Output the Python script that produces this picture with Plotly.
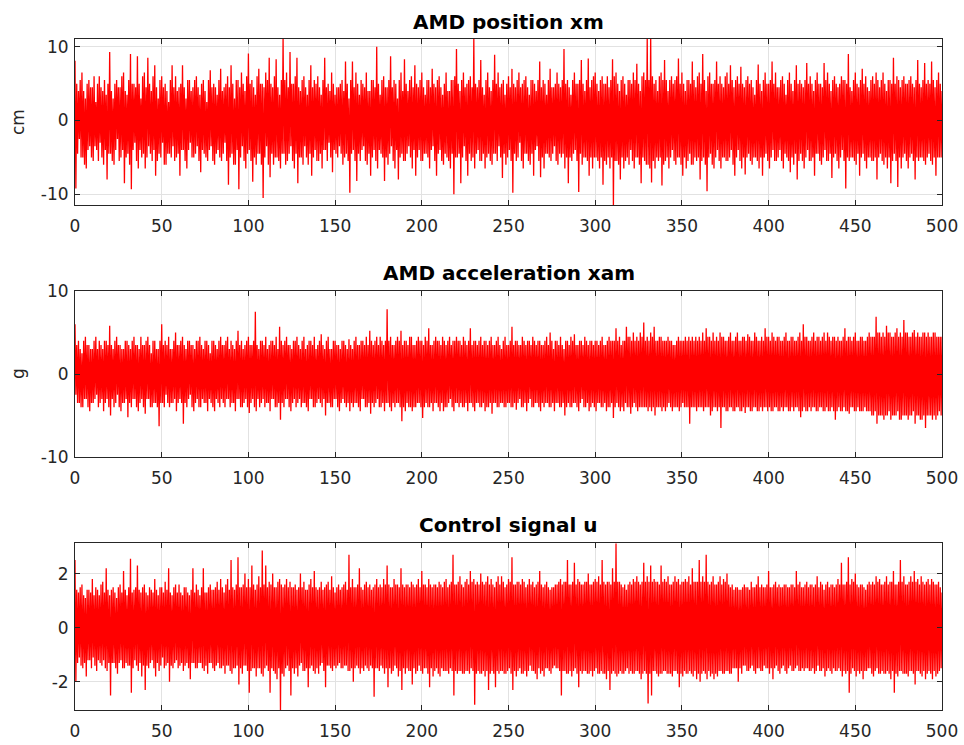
import plotly.graph_objects as go

# ---------------- data ----------------
T_START = 0
T_END = 500

panel_titles = ["AMD position xm", "AMD acceleration xam", "Control signal u"]
y_axis_labels = ["cm", "g", ""]
x_tick_values = [0, 50, 100, 150, 200, 250, 300, 350, 400, 450, 500]
x_tick_labels = ["0", "50", "100", "150", "200", "250", "300", "350", "400", "450", "500"]
y_tick_values = [[-10, 0, 10], [-10, 0, 10], [-2, 0, 2]]
y_tick_labels = [["-10", "0", "10"], ["-10", "0", "10"], ["-2", "0", "2"]]
y_ranges = [[-11.45, 11.05], [-10, 10], [-3.04, 3.12]]

# AMD position xm [cm], estimated peaks, two samples per second
xm_cm = [
    8.1,-9.2,5,-4.5,4,-2.5,5.5,-5,6.5,-5,4,-6,3,-6.5,5,-4,5.5,-3.5,4.5,-5,4.5,-5.5,6,-3.5,2.5,-4,5,-5.5,6,-3,4.5,-5,4,-6,5.5,-4,3.5,-8,5,-4.5,
    9.3,-4.5,4,-5.5,3,-6,5,-4,5.5,-2.5,4.5,-5.5,4.5,-5,6,-4,6.5,-8.5,4,-5,3.5,-4.5,5.5,-6,9,-9.3,5,-4,5,-3,4.5,-5.5,8.7,-6.5,5,-4,3,-5,6,-4.5,
    6.5,-6.5,4.5,-5,8.5,-3.5,5,-4.5,4,-5.5,6,-4,7.5,-7.5,4.5,-5.5,3,-4.5,5.5,-5,6,-3,4.5,-6,5,-6,4,-4.5,2.5,-4.5,5.5,-5,7.5,-3.5,4.5,-5.5,6,-5,4,-4.5,
    4.5,-7.5,5,-4,7.5,-4,4.5,-5.5,3,-6.5,5.5,-4,5.5,-3,4,-5,4.5,-5,5.5,-4.5,6,-3.5,4.5,-5.5,3.5,-7,5,-4,5.5,-4.5,4,-5,2.5,-5.5,5.5,-4,6.8,-3.5,4.5,-5.5,
    5,-6,4.5,-4.5,3.5,-4,5.5,-5,7,-5.5,4,-4.5,4.5,-3,5,-5.5,6,-8.7,4.5,-5,7.5,-4.5,5,-6,3,-6,5.5,-4,5.5,-9.3,4.5,-5,6.5,-3.5,5,-5.5,4,-6.5,6,-4.5,
    9.1,-4,5,-5.5,5.5,-8.3,4.5,-5,3.5,-6,6,-4.5,7,-4.5,5,-6,5,-10.5,4.5,-5,6.5,-3.5,5.5,-6,8.5,-7.7,5,-4.5,4.5,-6,6,-5,8.3,-5,4.5,-5.5,3.5,-6.5,5.5,-4.5,
    11.2,-4.5,5.5,-6,6.5,-5.5,4.5,-4.5,9.3,-3.5,5,-5.5,5,-6.5,6,-4.5,8.5,-8.5,4.5,-5,4,-5,5.5,-6,6,-3.5,4.5,-5,3.5,-6,5.5,-4.5,7.5,-7.5,4.5,-5,5.5,-4,5,-5.5,
    6,-5.5,4.5,-4.5,3.5,-6.5,5.5,-4,8.5,-4,4.5,-5.5,5,-3,4,-5,6.5,-7,5,-4,3.5,-4.5,4.5,-5,4.5,-3.5,5,-4.5,5.5,-6,4,-5,8,-4.5,5,-5.5,3,-9.8,5.5,-4.5,
    8,-4,4.5,-5.5,6.5,-8.2,5,-4.5,3.5,-5.5,5.5,-4,5,-3.5,4.5,-5.5,6.5,-6,4,-4.5,4,-7.5,5.5,-5,5.5,-4,4.5,-5.5,10,-6.5,5,-4,3.5,-4.5,5.5,-5,6,-8.2,4.5,-5,
    4.5,-6,5.5,-4.5,8.7,-3.5,4.5,-5.5,5.5,-6.5,5,-4,3,-8,5.5,-5,6.5,-4.5,4,-5.5,8.3,-5.5,5,-4.5,4,-3.5,5.5,-5,6,-6.5,4.5,-4,7.5,-7.5,5,-5,4.5,-4,5.5,-5.5,
    6.5,-5.5,4.5,-4.5,3.5,-4.5,5.5,-5,5.5,-6.5,4.5,-4,7,-3.5,5,-5.5,4.5,-7.5,5.5,-4.5,6,-4,4.5,-5.5,3.5,-6,5,-4.5,6.5,-5,4,-5.5,4,-6.5,5.5,-4.5,5.5,-10,6,-5,
    9.7,-5,5,-4.5,4,-8.5,5.5,-5,6.5,-3.5,4.5,-5.5,5,-7.5,5.5,-4.5,6,-5.5,4.5,-5,11.2,-6.5,5,-4.5,4.5,-4,5.5,-5.5,8.2,-5.5,4.5,-4.5,3.5,-6.5,5.5,-5,6.5,-4.5,4.5,-5.5,
    4,-6,5.5,-4.5,8.9,-4.5,5,-5.5,6.5,-3.5,4.5,-5,5,-7.8,5.5,-4.5,3.5,-6,5,-5,6,-4,4.5,-5.5,7,-9.8,5,-4.5,4.5,-5.5,5.5,-5,6.5,-3,4.5,-5.5,5,-6.5,5.5,-4.5,
    6,-4.5,4.5,-5.5,3.5,-6,5.5,-4.5,5.5,-7.5,5,-4,4,-3.5,5.5,-5.5,8,-7.7,4.5,-5,5.5,-6.5,5,-4.5,3.5,-4.5,5.5,-5,7,-5.5,4.5,-4.5,4.5,-3.5,5,-5.5,6.5,-6,5,-4.5,
    4.5,-5,5.5,-4.5,9.7,-6.5,5,-5,5.5,-8.5,4.5,-5,3.5,-5.5,5.5,-4.5,6.5,-4,5,-5.5,5,-9.7,5.5,-4.5,8.2,-6,5,-5,4,-5,5.5,-5.5,8.4,-7.5,4.5,-5,5.5,-6.5,6,-5,
    6.5,-5,5,-5.5,4,-6.5,5.5,-5,6,-8.7,5,-5.5,5,-6,6,-5,4.5,-6.5,5.5,-5,8.3,-11.6,6,-5.5,6.5,-5.5,5,-6,4,-8,5.5,-5,6,-6.5,5,-5.5,3.5,-5,5.5,-6,
    5.5,-4,5,-5.5,6.5,-6.5,5.5,-5,7.7,-5,5,-6,4,-8.5,6,-5,6.5,-5.5,5.5,-6,11.2,-6,5.5,-6.5,11.2,-8.4,6,-5.5,5,-6.5,5.5,-5,4,-5.5,6,-5,6.5,-8.8,5.5,-6,
    8.2,-5.5,5.5,-5,4,-6.5,5.5,-5,6,-4,5,-5.5,5.5,-6,6,-5,8.4,-5,5,-6,6.5,-7.5,5,-5,4,-6.5,5.5,-5.5,5.5,-4.5,5,-6,8,-6,5.5,-5,4.5,-5.5,6,-5,
    6.5,-8,5,-5.5,9,-5,5.5,-6,4,-9.6,6,-5,6.5,-4.5,5,-6,5,-6.5,5.5,-5,8,-4,5,-5.5,6,-6.5,5,-5,4.5,-5,6,-5.5,6.5,-5.5,5,-5,7.5,-4,5.5,-6,
    4.5,-7.5,5.5,-5,6,-4,5,-5.5,7.3,-6.5,5,-5,4.5,-7.3,5.5,-5,6,-4.5,5,-5.5,5.5,-6,4.5,-5,3.5,-5,5.5,-5.5,7.6,-6.5,5,-5,4,-7.5,5.5,-5,6.5,-4.5,5,-5.5,
    5,-6.5,5.5,-5,8,-4,5,-5.5,6.5,-5.5,4.5,-5,4.5,-4,5.5,-5.5,6,-6.5,5,-4.5,3.5,-5,5.5,-5.5,6.5,-7,5,-5,4,-6,5.5,-4.5,7.5,-8,5,-5.5,5.5,-4.5,5,-5.5,
    4.5,-6.5,5.5,-5,7.8,-4,5,-5.5,6,-5.5,5,-5,4,-7.5,5.5,-4.5,6.5,-4.5,5,-5.5,5,-6,4.5,-5,7.8,-4,5.5,-5.5,6.5,-5.5,5,-4.5,4,-7.8,5.5,-5,6,-4.5,5,-5.5,
    4.5,-6.5,5,-5,6,-4,5.5,-5.5,5.5,-9.2,5,-5,9,-5.5,4.5,-5,4,-5,5.5,-5.5,6.5,-6,5,-4.5,4.5,-7.5,5.5,-5,7,-4.5,5,-5.5,6,-6.5,4.5,-5,4,-5,5.5,-5.5,
    6,-5.5,5,-5,6.5,-8,5.5,-5,4.5,-4.5,5.5,-5.5,6.5,-6,5,-5,4,-6.5,5.5,-5,5.5,-8.5,5,-5.5,8.5,-4.5,5,-5.5,6,-9,5.5,-5,4.5,-6.5,5.5,-5,6,-4.5,5,-5.5,
    5,-6.5,5.5,-5,6,-4.5,5,-5.5,4.5,-8,5.5,-5,8.2,-5.5,5,-5,4.5,-5,5.5,-5.5,7.8,-6,5,-5,5.5,-4.5,5,-5.5,8,-6,5.5,-5,4.5,-7.5,5.5,-5,6.5,-5,5,-5,
    4,
]

# AMD acceleration xam [g]
xam_g = [
    6,-2.5,3.5,-3.5,4,-3.5,3,-4,2.5,-4,4,-3,4.5,-3,3.5,-4,3.5,-4.5,3,-3.5,3,-3.5,4,-3,4.5,-2.5,3,-4,4,-3.5,3.5,-3,3,-4.5,4,-3.5,4,-3,3.5,-4,
    5.8,-5,3.5,-3,3,-4,4,-3.5,4.5,-2.5,3.5,-4,3.5,-4.5,3,-3.5,3,-3.5,4,-3,4,-5.2,3.5,-3.5,3,-4,4,-3,4.5,-3,3.5,-4,3.5,-4.5,3,-3.5,4.5,-3,3.5,-4,
    3.5,-4.8,4,-3,4.5,-3,3.5,-4,2.5,-4,4,-3.5,4,-3.5,3,-4,3,-6.3,4,-3.5,6,-3.5,3.5,-4,4,-2.5,3.5,-3.5,4.5,-4,3,-3.5,3,-3.5,4,-3,5,-4.5,3.5,-3.5,
    3.5,-3,4,-3.5,4.5,-6,3.5,-3.5,3,-4,4,-3,4,-2.5,3.5,-4,3.5,-4.5,3,-3.5,4,-3,4,-4,4.5,-4,3.5,-3,3,-3.5,4,-3.5,4,-4.5,3.5,-3,2.5,-3.5,4,-4,
    4,-4.5,3.5,-3,3,-3.5,4,-4,4.5,-3,3.5,-3.5,3.5,-4,4,-3,4.5,-3,3,-4,4,-3.5,3.5,-3.5,3,-4.5,4,-3,5.2,-3,3.5,-4,4,-4,3,-3.5,3.5,-3,4,-4,
    4.5,-4.7,3.5,-3.5,3.5,-3,4,-4,7.5,-4.5,3.5,-3,3,-4,4,-3.5,4,-3,3.5,-4,4.5,-3.5,3,-3.5,3.5,-4.5,4,-3,4,-3,3.5,-4,4.5,-4,3,-3.5,5.7,-5.5,4,-3.5,
    3.5,-4,4,-3,4.5,-3,3.5,-4,3.5,-4.5,3,-3.5,4,-3,4,-4,4.5,-3.5,3.5,-3,3,-4,4,-3.5,4.5,-3.5,3,-4,3.5,-4.5,4,-3,4,-3,3.5,-4,4.5,-4,3,-3.5,
    3.5,-3,4,-3.5,4.8,-4,3.5,-3,3,-5,4,-3.5,4.5,-3.5,3,-4,3,-4,4,-3,4,-3,3.5,-4,3.5,-4.5,3,-3.5,4,-3,4,-3.5,3.5,-4,3,-3.5,4.2,-4.5,3.5,-3.5,
    3,-4,4,-3.5,4.5,-3.5,3.5,-4,3.5,-4.5,4,-3,4,-3,3.5,-4,4.5,-4,3.5,-3.5,5.2,-4.8,4,-3.5,3.5,-4,4,-3.5,4.5,-3,3.5,-4,4.5,-4,4,-3.5,3.5,-4.5,4,-3.5,
    7.8,-3.5,4,-4,4.5,-4.5,3.5,-3.5,3.5,-4,4,-3.5,4.5,-3.5,4,-4,5.2,-5.7,3.5,-4,4,-4.5,4,-3.5,3.5,-4,4.5,-4,4.5,-4.5,3.5,-4,3.5,-4,4,-3.5,4.5,-3.5,4,-4,
    4,-5.3,3.5,-4,4.5,-3.5,4,-4,5.5,-4,3.5,-3.5,3.5,-4.5,4,-3.5,4.5,-3.5,4,-4,4,-4.5,3.5,-3.5,4.5,-4.5,4,-4,3.5,-4,4,-3.5,4.5,-3,3.5,-4,4,-4.5,4,-3.5,
    4.5,-3.5,4,-4,4,-3.5,3.5,-4,4.5,-4,4,-3.5,3.5,-4.5,4,-3.5,5.5,-3.5,3.5,-4,4,-4.5,4,-3.5,3.5,-3.5,4,-4,4.5,-4,3.5,-3.5,4,-4.5,4,-4,3.5,-4,4,-3.5,
    4.5,-4.8,3.5,-3.5,3.5,-3.5,4,-4,4.5,-4,3.5,-3.5,3,-3.5,4,-4,4.5,-4,3.5,-3.5,3.5,-3.5,4,-4,5.7,-4,3.5,-3.5,4,-4.3,4,-3.5,3.5,-3,3.5,-4,4.5,-4,4,-3.5,
    3.5,-4.5,4,-3.5,4,-3,3.5,-4,4.5,-4,4,-3.5,3.5,-3.5,4,-4,4,-4.5,3.5,-3.5,3.5,-4,4,-3.5,4.5,-3.5,3.5,-4,5,-4,4,-3.5,3,-4.5,4,-3.5,4,-3.5,3.5,-4,
    4.5,-4,3.5,-3.5,3,-5,4,-4,4,-3.5,3.5,-4,4.5,-4,4,-3.5,4.8,-3.5,3.5,-4,3.5,-4.5,4,-3.5,4,-3,3.5,-4,4.5,-4,4,-3.5,3.5,-4.5,4,-4,4,-3.5,3.5,-4,
    4,-4.5,4,-3.5,3.5,-3.5,4,-4,4.5,-4,3.5,-3.5,3.5,-4.5,4,-4,4.5,-4,4,-3.5,4,-5.3,4,-4,5.5,-3.5,4,-4,4.5,-4.5,3.5,-4,4,-4.5,4,-3.5,5.7,-4,4.5,-4,
    4.5,-4.8,4,-4,5,-3.5,4,-4,4.5,-4.5,4,-4,5,-4,4.5,-4,6.2,-4,4,-4,4.5,-4.5,4,-4,5,-4.5,4.5,-4,5.7,-5,4,-4,4,-4,4.5,-4,4.5,-4.5,4,-4,
    4,-4.5,4,-4,4.5,-3.5,4,-4,4,-4.5,3.5,-4,3.5,-4,4,-4,4.5,-4.5,4,-4,4,-3.5,4,-4,4.5,-4,4,-4,4.5,-6,4,-4,4.5,-4,4,-4,4.5,-4.5,4,-4,
    4.5,-4,4,-4,5,-4.5,4,-4,5.5,-4,4.5,-4,4.5,-5,4,-4.5,5,-4,4,-4,4.5,-4.5,4,-4,5,-6.5,4.5,-4,4.5,-4,4,-4.5,4,-4.5,4.5,-4,5,-4,4,-4.5,
    4,-4.5,4.5,-4,5,-4,4,-4.5,4,-4.5,4.5,-4,4.5,-4.7,4,-4,4.8,-4,4.5,-4.5,4,-4.5,4,-4,5,-4,4.5,-4.5,4,-4.5,4,-4,4.5,-4.5,4,-4,5.5,-4,4.5,-4.5,
    4.5,-4,4,-4.5,5,-4.5,4.5,-4,4,-4,4.5,-4.5,4.5,-4.5,4,-4,4,-4.5,4.5,-4,5,-4,4,-4.5,4,-4.5,4.5,-4,4.5,-4.5,4,-4,4,-4,4.5,-4.5,5,-5.2,4,-4.5,
    6,-4,4.5,-4.5,4.5,-4.5,4,-4,4,-4.5,4.5,-4,5,-4,4,-4.5,4.5,-4.5,4.5,-4,4,-4,4.5,-4.5,5,-4.5,4,-4,5,-4.5,4.5,-4.5,4,-4,4.5,-4.5,4.5,-5.5,4,-4.5,
    4.5,-4,4,-4.5,4,-4.5,4.5,-4,5.5,-4.5,4,-4.5,4.5,-4.8,4.5,-4,4,-4,4.5,-4.5,5,-4.5,4,-4,4,-4.5,4.5,-4.5,4.5,-4.5,4,-4,4,-4.5,4.5,-4.5,5,-4.5,4.5,-5,
    4.5,-5,4.5,-4.5,6.9,-6,5,-5,5,-5,4.5,-5,5,-5.5,4.5,-5,5.8,-5,5,-4.5,5,-5.5,4.5,-5,4.5,-5,5,-5,5.5,-4.5,4.5,-5.5,5,-5.5,4.5,-5,6.5,-5,5,-5,
    5,-5.5,4.5,-5,4.5,-5,5,-4.5,5.3,-6,4.5,-5,5,-5,4.5,-5.5,4.5,-5.5,5,-5,5,-6.5,4.5,-5,5,-5,4.5,-5,4.5,-5.5,5,-5,5,-5.5,4.5,-5,4.5,-4.5,4.5,-5,
    4.5,
]

# Control signal u
u_ctrl = [
    2.5,-2,1.4,-1.3,1.3,-1.1,1.5,-1.4,1.6,-1.5,1.2,-1.3,1.1,-1.8,1.4,-1.2,1.4,-1.2,1.3,-1.5,1.8,-1.1,1.2,-1.4,1.5,-1.6,1.4,-1.2,1.2,-1.3,1.6,-1.4,1.7,-1.2,1.3,-1.5,2.2,-1.6,1.4,-1.3,
    1.2,-2.5,1.4,-1.3,1.5,-1.3,1.3,-1.5,1.1,-1.7,1.5,-1.3,1.6,-1.2,1.3,-1.5,2.1,-1.5,1.4,-1.3,1.2,-1.4,1.5,-1.4,2.55,-2.4,1.3,-1.5,1.4,-1.2,1.5,-1.4,2.3,-1.6,1.4,-1.3,1.3,-1.8,1.5,-1.4,
    1.6,-2.3,1.3,-1.4,1.2,-1.5,1.5,-1.3,1.4,-1.2,1.3,-1.5,1.8,-1.8,1.4,-1.3,1.2,-1.6,1.5,-1.4,1.5,-1.1,1.3,-1.5,1.7,-1.4,1.4,-1.3,2.2,-2,1.3,-1.4,1.2,-1.5,1.5,-1.3,1.6,-1.2,1.3,-1.5,
    1.6,-1.4,1.3,-1.3,1.2,-1.6,1.5,-1.4,1.5,-1.3,1.3,-1.5,1.2,-1.9,1.4,-1.3,2.2,-1.3,1.3,-1.5,1.6,-1.5,1.4,-1.3,1.2,-1.3,1.5,-1.5,2.2,-1.6,1.3,-1.4,1.3,-1.7,1.5,-1.3,1.6,-1.3,1.4,-1.5,
    1.4,-1.6,1.5,-1.4,1.7,-1.3,1.4,-1.5,1.8,-1.5,1.5,-1.4,1.3,-1.7,1.6,-1.4,1.8,-1.4,1.4,-1.6,2.5,-1.7,1.5,-1.5,1.4,-1.5,1.6,-1.4,2.6,-2.1,1.5,-1.5,1.5,-1.7,1.6,-1.4,2,-1.4,1.5,-1.6,
    1.8,-2.4,1.5,-1.6,2.3,-1.5,1.6,-1.5,1.4,-1.8,1.6,-1.5,1.9,-1.5,1.5,-1.7,2.85,-1.8,1.6,-1.5,2.3,-1.4,1.5,-1.6,1.7,-2.4,1.6,-1.5,2,-1.6,1.5,-1.7,1.5,-1.9,1.7,-1.5,1.8,-3.04,1.6,-1.7,
    1.5,-1.8,1.6,-1.5,1.8,-1.4,1.5,-1.6,1.7,-2.5,1.5,-1.5,1.5,-1.7,1.6,-1.5,1.4,-1.8,1.5,-1.4,2,-1.3,1.5,-1.6,1.7,-1.6,1.4,-1.5,1.4,-2.2,1.6,-1.5,1.8,-1.4,1.5,-1.6,2.1,-1.7,1.5,-1.5,
    1.4,-1.7,1.5,-1.4,1.7,-1.3,1.4,-1.6,1.5,-2.2,1.6,-1.4,1.7,-1.4,1.4,-1.5,1.9,-1.6,1.5,-1.4,1.3,-1.5,1.5,-1.4,1.6,-1.3,1.4,-1.5,1.5,-1.5,1.6,-1.4,1.7,-1.4,1.4,-1.6,2.7,-1.6,1.5,-1.5,
    1.8,-2,1.5,-1.5,1.5,-1.4,1.6,-1.5,2.2,-1.7,1.5,-1.5,1.4,-1.6,1.6,-1.4,1.7,-1.5,1.5,-1.6,1.6,-1.4,1.4,-1.5,1.5,-2.55,1.6,-1.5,1.8,-1.5,1.5,-1.6,1.6,-1.4,1.5,-1.5,1.8,-1.7,1.6,-1.5,
    2.3,-2.2,1.6,-1.5,1.5,-1.7,1.5,-1.6,1.8,-1.4,1.6,-1.5,1.6,-1.8,1.5,-1.6,2.2,-2.3,1.6,-1.5,1.5,-1.7,1.6,-1.5,1.6,-1.6,1.5,-1.6,1.7,-2.1,1.6,-1.5,1.5,-1.7,1.6,-1.6,1.8,-1.4,1.5,-1.6,
    2.1,-1.7,1.6,-1.5,1.6,-1.5,1.5,-1.7,1.8,-2.2,1.6,-1.5,1.5,-1.8,1.6,-1.6,1.6,-1.5,1.5,-1.7,1.7,-1.8,1.6,-1.5,1.5,-1.6,1.7,-1.6,1.8,-1.6,1.5,-1.7,1.6,-1.5,1.7,-1.6,2.7,-2.5,1.6,-1.6,
    1.6,-1.7,1.7,-1.6,1.9,-1.6,1.6,-1.7,1.5,-1.7,1.7,-1.6,1.8,-1.6,1.6,-1.7,2.1,-1.5,1.7,-1.6,1.8,-2.85,1.6,-1.7,1.7,-1.6,1.6,-1.7,2,-1.7,1.7,-1.6,1.6,-1.8,1.7,-1.6,1.9,-2.3,1.6,-1.7,
    1.8,-1.6,1.6,-1.7,1.5,-2.2,1.7,-1.6,1.9,-1.7,1.6,-1.6,1.9,-1.6,1.7,-1.7,1.5,-1.7,1.6,-1.6,1.8,-1.5,1.7,-1.7,2.6,-2.3,1.6,-1.6,1.6,-1.8,1.7,-1.6,1.7,-1.5,1.6,-1.7,1.8,-1.7,1.7,-1.6,
    1.5,-1.8,1.6,-1.6,1.8,-1.4,1.6,-1.6,1.7,-1.6,1.5,-1.7,1.6,-1.9,1.7,-1.5,2.1,-1.7,1.6,-1.6,1.5,-1.8,1.6,-1.5,1.7,-1.5,1.5,-1.6,1.4,-1.7,1.5,-1.5,1.5,-1.4,1.6,-1.5,1.6,-1.5,1.7,-1.6,
    1.8,-2.5,1.6,-1.6,1.7,-1.6,1.7,-1.7,2.5,-1.7,1.6,-1.6,1.6,-1.8,1.7,-1.6,2.4,-1.5,1.6,-1.7,1.8,-2.2,1.7,-1.6,1.6,-1.7,1.6,-1.6,1.7,-1.6,1.7,-1.7,2,-1.7,1.6,-1.6,1.6,-1.8,1.7,-1.6,
    1.8,-1.5,1.7,-1.7,1.9,-1.7,1.6,-1.6,2.5,-1.7,1.7,-1.7,1.6,-1.9,1.7,-1.6,1.7,-2.3,1.6,-1.7,2.2,-1.6,1.7,-1.7,3.12,-1.8,1.7,-1.7,1.7,-1.6,1.6,-1.7,1.5,-1.7,1.6,-1.6,1.4,-1.5,1.6,-1.7,
    1.7,-1.6,1.6,-1.7,1.8,-1.7,1.7,-1.6,1.9,-1.6,1.7,-1.7,1.6,-1.9,1.7,-1.7,2.4,-1.6,1.7,-1.7,1.9,-2.8,1.7,-1.7,2.3,-2.5,1.7,-1.6,1.8,-1.6,1.7,-1.7,1.7,-1.8,1.6,-1.7,2.3,-1.7,1.7,-1.6,
    1.8,-1.6,1.7,-1.7,1.9,-1.7,1.6,-1.7,1.6,-1.8,1.7,-1.6,1.9,-1.6,1.7,-1.7,1.8,-2.2,1.6,-1.7,1.7,-1.8,1.7,-1.6,1.8,-1.7,1.7,-1.7,1.9,-1.6,1.6,-1.7,2.2,-1.8,1.7,-1.6,1.7,-1.9,1.7,-1.7,
    2.5,-2,1.7,-1.7,1.9,-1.6,1.7,-1.7,2.7,-1.9,1.7,-1.6,1.6,-1.8,1.7,-1.7,1.9,-1.9,1.6,-1.7,1.6,-1.8,1.7,-1.6,1.9,-1.6,1.6,-1.7,1.8,-1.7,1.7,-1.6,2,-1.6,1.6,-1.7,1.5,-1.7,1.6,-1.5,
    1.4,-1.5,1.5,-1.5,1.5,-2,1.4,-1.5,1.4,-1.7,1.5,-1.4,1.6,-1.4,1.5,-1.6,1.5,-1.6,1.4,-1.5,1.7,-1.4,1.5,-1.6,1.5,-1.7,1.6,-1.5,1.9,-1.5,1.5,-1.6,1.6,-1.6,1.5,-1.4,1.5,-1.5,1.6,-1.5,
    2.1,-1.7,1.5,-1.5,1.5,-1.9,1.6,-1.5,1.7,-1.4,1.5,-1.6,1.6,-1.7,1.5,-1.5,1.5,-1.4,1.6,-1.6,1.6,-1.7,1.5,-1.5,1.5,-1.4,1.6,-1.6,1.6,-1.6,1.5,-1.5,2.1,-1.4,1.6,-1.6,1.7,-1.6,1.5,-1.5,
    1.5,-1.6,1.6,-1.5,1.7,-1.5,1.5,-1.6,1.6,-1.6,1.6,-1.5,1.5,-1.7,1.6,-1.6,1.9,-1.4,1.5,-1.6,1.7,-1.6,1.6,-1.5,1.4,-1.8,1.6,-1.6,1.7,-1.5,1.5,-1.6,1.6,-1.7,1.6,-1.5,1.5,-1.6,1.6,-1.6,
    1.8,-1.5,1.6,-1.6,2.4,-1.8,1.6,-1.6,1.6,-1.7,1.7,-1.6,2.6,-2.4,1.6,-1.7,1.8,-1.5,1.7,-1.6,2,-1.8,1.6,-1.6,1.5,-1.7,1.6,-1.6,1.6,-1.9,1.5,-1.6,1.4,-1.6,1.6,-1.5,1.7,-1.5,1.6,-1.7,
    1.7,-1.8,1.6,-1.6,1.9,-1.5,1.7,-1.7,1.8,-1.7,1.6,-1.6,1.6,-1.7,1.7,-1.7,1.9,-1.6,1.6,-1.7,1.7,-1.9,1.7,-1.6,2.1,-2.4,1.6,-1.7,1.6,-1.8,1.7,-1.6,2.5,-1.6,1.7,-1.7,1.9,-1.7,1.6,-1.7,
    1.6,-1.8,1.7,-1.6,1.9,-1.6,1.7,-1.7,2.1,-2.1,1.7,-1.6,1.8,-1.6,1.6,-1.7,1.9,-1.8,1.7,-1.6,1.6,-1.9,1.7,-1.7,1.8,-1.6,1.6,-1.7,1.8,-1.9,1.7,-1.6,1.6,-1.8,1.6,-1.7,1.7,-1.6,1.5,-1.5,
    1.3,
]

series = [xm_cm, xam_g, u_ctrl]

# ---------------- layout constants ----------------
W, H = 964, 745
X_DOMAIN = [75 / W, 942 / W]
PANEL_PX = [(39, 205), (291, 457), (543.3, 710)]  # top, bottom in pixels
TITLE_Y_PX = [22, 273, 525]
LINE_COLOR = "#ff0000"
AX_COLOR = "#262626"
GRID_COLOR = "#e2e2e2"
FONT = "DejaVu Sans"

fig = go.Figure()
annotations = []

for i, vals in enumerate(series):
    suffix = "" if i == 0 else str(i + 1)
    n = len(vals)
    fig.add_trace(go.Scatter(
        y=vals, x0=T_START, dx=(T_END - T_START) / (n - 1),
        mode="lines", line=dict(color=LINE_COLOR, width=1.3),
        xaxis="x" + suffix, yaxis="y" + suffix, showlegend=False,
        hoverinfo="skip",
    ))
    top, bot = PANEL_PX[i]
    common = dict(
        showline=True, linecolor=AX_COLOR, linewidth=1, mirror="ticks",
        ticks="inside", ticklen=5, tickcolor=AX_COLOR, tickwidth=1,
        showgrid=True, gridcolor=GRID_COLOR, gridwidth=1, zeroline=False,
        automargin=False,
        tickfont=dict(family=FONT, size=17, color=AX_COLOR),
    )
    fig.layout["xaxis" + suffix] = dict(
        common, domain=X_DOMAIN, range=[T_START, T_END],
        tickvals=x_tick_values, ticktext=x_tick_labels,
        anchor="y" + suffix, ticklabelstandoff=6,
    )
    fig.layout["yaxis" + suffix] = dict(
        common, domain=[1 - bot / H, 1 - top / H], range=y_ranges[i],
        tickvals=y_tick_values[i], ticktext=y_tick_labels[i],
        anchor="x" + suffix, ticklabelstandoff=2,
    )
    annotations.append(dict(
        text="<b>" + panel_titles[i] + "</b>", xref="paper", yref="paper",
        x=(X_DOMAIN[0] + X_DOMAIN[1]) / 2, y=1 - TITLE_Y_PX[i] / H,
        xanchor="center", yanchor="middle", showarrow=False,
        font=dict(family=FONT, size=20, color="#000000"),
    ))
    if y_axis_labels[i]:
        annotations.append(dict(
            text=y_axis_labels[i], xref="paper", yref="paper",
            x=18 / W, y=1 - (top + bot) / 2 / H, textangle=-90,
            xanchor="center", yanchor="middle", showarrow=False,
            font=dict(family=FONT, size=17, color=AX_COLOR),
        ))

fig.update_layout(
    width=W, height=H, margin=dict(l=0, r=0, t=0, b=0),
    paper_bgcolor="#ffffff", plot_bgcolor="#ffffff",
    annotations=annotations, showlegend=False,
)

fig.write_html(
    "out.html",
    config={"displayModeBar": False},
    post_script="document.body.style.margin='0';document.body.style.overflow='hidden';",
)
